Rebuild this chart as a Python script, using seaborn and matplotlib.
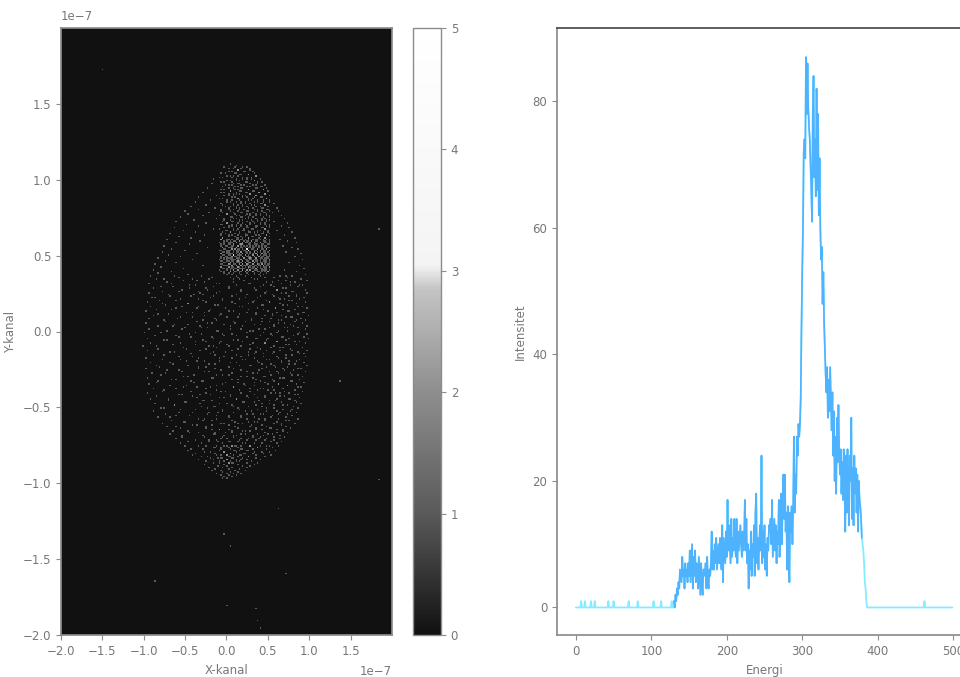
import numpy as np
import pandas as pd
import matplotlib
matplotlib.use("Agg")
import matplotlib.pyplot as plt
import seaborn as sns
from matplotlib.colors import LinearSegmentedColormap

sns.set_theme(style="ticks")
plt.rcParams['font.family'] = ['DejaVu Sans']

# spektrum
enkelt_topper = [7, 12, 20, 25, 43, 50, 70, 82, 103, 113, 127, 462]
start_kanal = 130
intensitet_del = [
    1, 0, 2, 1, 3, 2, 4, 3, 6, 5,
    4, 8, 5, 6, 3, 7, 5, 6, 4, 7,
    5, 9, 4, 7, 10, 3, 8, 5, 9, 4,
    7, 6, 3, 8, 5, 2, 7, 4, 2, 6,
    6, 5, 7, 3, 8, 4, 3, 6, 5, 7,
    12, 6, 9, 6, 10, 7, 11, 6, 8, 10,
    7, 11, 8, 6, 13, 4, 11, 9, 7, 12,
    8, 17, 9, 13, 10, 7, 14, 8, 11, 9,
    14, 10, 8, 14, 7, 12, 9, 11, 13, 10,
    8, 12, 9, 11, 17, 9, 14, 7, 10, 3,
    9, 6, 12, 5, 10, 8, 13, 5, 15, 18,
    7, 11, 6, 10, 13, 9, 24, 7, 12, 8,
    13, 6, 10, 5, 11, 9, 13, 12, 14, 10,
    17, 8, 11, 14, 9, 13, 7, 12, 10, 17,
    8, 14, 18, 10, 16, 21, 14, 21, 12, 15,
    6, 16, 9, 4, 15, 12, 16, 10, 16, 27,
    15, 21, 18, 27, 24, 29, 27, 29, 33, 44,
    53, 60, 72, 74, 71, 87, 78, 86, 79, 76,
    74, 70, 66, 61, 78, 84, 68, 74, 65, 82,
    66, 78, 62, 71, 60, 55, 57, 48, 53, 45,
    41, 37, 34, 38, 30, 36, 31, 38, 33, 28,
    34, 24, 31, 20, 27, 18, 30, 23, 32, 25,
    21, 25, 18, 23, 17, 25, 20, 12, 24, 15,
    25, 18, 13, 24, 20, 30, 14, 22, 13, 24,
    18, 22, 15, 21, 12, 20, 17, 16, 14, 11,
    10, 9, 7, 4, 3, 1,
]

# treff i detektoren, i nm. en liste per rad, fra y=110 og ned i steg paa 1 nm
rad_topp = 110
treff_rader = [
    [5], [12], [-2, 20], [8, 28], [14], [3, 22, 31], [-6, 10], [17, 26], [1, 13, 36], [-9, 7, 24],
    [-15, 19, 30], [4, 11, 33], [-3, 25, 38], [-18, 9, 16], [-1, 6, 21, 35], [13, 28, 42], [-22, 2, 18, 37],
    [-7, 10, 26, 44], [5, 15, 33], [-28, -2, 22, 39], [8, 12, 29, 46], [-12, 3, 19, 35], [-33, 10, 24, 41],
    [-5, 14, 31, 48], [-19, 6, 27, 38, 52], [-38, 1, 17, 34, 44], [9, 23, 40, 57], [-25, -4, 13, 30, 47],
    [-43, 5, 20, 36], [-14, 11, 26, 42, 60],
    # y=80
    [-34, 2, 16, 33, 50], [-50, -6, 24, 38, 63], [-21, 8, 19, 45, 55], [-46, 0, 29, 41], [-29, 12, 22, 35, 48, 67],
    [-55, 4, 17, 31, 52], [-11, 9, 26, 43, 70], [-39, -3, 20, 37, 49], [-60, 6, 15, 32, 58], [-24, 1, 28, 40, 73],
    [-48, -5, 11, 23, 46], [-33, 7, 18, 36, 51, 66], [-63, 3, 25, 42, 76], [-16, 13, 30, 47], [-52, -1, 9, 21, 38, 61],
    [-37, 5, 27, 34, 50, 79], [-68, -7, 16, 44], [-26, 2, 22, 39, 48, 70], [-57, 10, 31, 41], [-42, -4, 14, 26, 46, 82],
    # y=60
    [-71, -6, 3, 12, 19, 27, 35, 44, 51, 64], [-31, 0, 8, 15, 24, 30, 38, 47, 74], [-60, -3, 5, 11, 22, 33, 41, 49, 85],
    [-45, -7, 2, 9, 17, 17, 26, 36, 43, 52], [-75, -1, 7, 14, 21, 29, 39, 46, 68], [-22, -5, 4, 12, 19, 28, 34, 42, 50, 79],
    [-66, -2, 6, 10, 16, 25, 31, 37, 45, 48, 87], [-50, -6, 1, 8, 13, 22, 27, 27, 40, 44, 51], [-78, -3, 3, 11, 18, 24, 33, 38, 47, 72],
    [-36, -7, 0, 5, 15, 20, 29, 35, 43, 49, 90], [-70, -4, 2, 9, 9, 16, 23, 31, 37, 41, 46, 52], [-56, -1, 6, 12, 19, 26, 33, 39, 45, 50, 82],
    [-83, -6, 0, 7, 14, 21, 28, 28, 36, 42, 48], [-41, -3, 4, 10, 17, 24, 30, 35, 40, 47, 51, 92], [-74, -7, 1, 8, 13, 13, 20, 27, 32, 38, 44, 49],
    [-61, -2, 5, 11, 16, 22, 29, 34, 41, 46, 52, 76], [-86, -5, 3, 9, 15, 19, 25, 31, 37, 37, 43, 50], [-28, -1, 6, 12, 18, 23, 28, 33, 39, 45, 48, 88],
    [-79, -6, 2, 7, 14, 20, 26, 26, 32, 40, 47, 51], [-52, -3, 4, 10, 16, 21, 30, 36, 42, 49, 94], [-89, 0, 8, 13, 19, 24, 29, 35, 44, 46, 70],
    [-67, -7, 5, 11, 17, 22, 31, 38, 43, 50, 84], [-82, -2, 3, 9, 15, 25, 34, 41, 48], [-47, 1, 7, 18, 27, 33, 39, 45, 96],
    # y=38
    [-91, 12, 23, 64, 80], [-58, 5, 30, 47, 74], [-84, -20, 16, 38, 90], [-35, 71, 97], [-72, 8, 55, 83], [-93, -12, 26, 66],
    [-44, 44, 78, 92], [-64, 3, 58, 87], [-88, -25, 34, 72], [-53, 18, 60, 95], [-77, -8, 49, 81], [-94, -31, 67, 98],
    [-39, 11, 56, 85], [-68, -16, 40, 75], [-90, 22, 62, 93], [-55, -5, 70, 88], [-81, -28, 33, 79], [-96, 6, 52, 96],
    # y=20
    [-47, 27, 64, 84], [-73, -10, 45, 73], [-92, -34, 15, 91], [-60, 38, 59, 98], [-85, -19, 68, 82], [-97, 2, 50, 76],
    [-41, 24, 61, 94], [-70, -6, 36, 87], [-88, -26, 55, 99], [-56, 13, 72, 80], [-94, -14, 43, 90], [-76, 30, 66, 96],
    [-36, 8, 51, 83], [-98, -22, 63, 92], [-63, -2, 40, 77], [-82, 19, 58, 98], [-50, -30, 70, 86], [-93, 5, 47, 95],
    [-71, -12, 32, 74], [-99, 25, 60, 89],
    # y=0
    [-44, -4, 54, 97], [-86, 12, 41, 81], [-58, -18, 67, 93], [-96, 35, 50, 99], [-75, -28, 9, 72], [-38, 20, 61, 88],
    [-91, -8, 46, 95], [-64, 28, 75, 84], [-100, -16, 3, 57], [-52, 38, 69, 91], [-83, -24, 14, 78], [-95, 48, 64, 98],
    [-69, -1, 26, 86], [-42, 33, 55, 93], [-89, -13, 71, 80], [-57, 17, 44, 96], [-97, -33, 6, 62], [-78, 23, 52, 88],
    [-48, -9, 37, 76], [-92, 11, 66, 94],
    # y=-20
    [-65, -20, 42, 83], [-85, 29, 58, 97], [-34, 2, 49, 73], [-98, -14, 68, 90], [-72, 18, 39, 81], [-54, -27, 60, 95],
    [-90, 7, 31, 77], [-79, -5, 53, 86], [-46, 24, 44, 92], [-96, -17, 64, 70], [-61, 13, 36, 88], [-83, -30, 57, 79],
    [-39, -1, 47, 94], [-93, 21, 62, 84], [-68, -11, 34, 74], [-51, 9, 55, 90], [-88, -24, 41, 69], [-76, 16, 50, 82],
    [-43, -7, 28, 92], [-95, 59, 65, 75],
    # y=-40
    [-58, -19, 4, 86], [-84, 24, 46, 70], [-36, -3, 37, 89], [-91, 11, 61, 78], [-70, -26, 52, 83], [-48, 19, 33, 66],
    [-87, -9, 43, 90], [-63, 6, 57, 74], [-30, -15, 27, 81], [-80, 14, 49, 86], [-55, -4, 38, 68], [-89, 22, 60, 77],
    [-41, -21, 8, 84], [-74, 31, 45, 63], [-60, -11, 17, 80], [-83, 2, 54, 71], [-26, 25, 39, 87], [-67, -17, 47, 75],
    [-50, 10, 34, 60], [-78, -6, 20, 82],
    # y=-60
    [-35, 3, 42, 66], [-71, -24, 28, 72], [-56, 13, 51, 78], [-18, -8, 36, 61], [-64, 6, 23, 69], [-44, -1, 46, 74],
    [-68, -13, 18, 56], [-29, 9, 32, 64], [-53, -5, 40, 70], [-60, 1, 26, 49], [-21, 15, 35, 58], [-47, -10, 5, 66],
    [-56, 20, 43, 61], [-33, -3, 12, 52], [-50, 7, 29, 63], [-14, 2, 38, 55], [-42, -7, 17, 48], [-46, 10, 24, 59],
    [-26, -2, 33, 51], [-37, 5, 21, 44],
    # y=-80
    [-40, -12, 0, 15, 53], [-30, 4, 27, 46], [-19, -6, 9, 36], [-33, 1, 18, 41], [-24, -9, 12, 30], [-16, 3, 7, 24, 38],
    [-27, -3, 14, 33], [-10, 0, 20, 29], [-21, -5, 6, 25], [-13, 2, 16], [-17, -7, 10, 22], [-4, 5, 13], [-11, 1, 8, 18],
    [-6, 3, 11], [-2, 6],
    # y=-95
    [-4, 1],
]

# ekstra treff i det lyse rektangelet, fra y=108 og ned
rekt_topp = 108
rekt_rader = [
    [10, 24], [2, 18], [14, 29], [6, 21], [-1, 12, 33], [16, 27], [4, 9, 36], [-4, 19, 30], [11, 25, 40], [1, 15, 34],
    [-6, 7, 22, 43], [13, 28, 38], [3, 17, 31, 46], [-5, 10, 24, 41], [8, 20, 35, 48], [-2, 14, 27, 44], [5, 18, 32, 50],
    [-7, 11, 25, 39], [2, 16, 29, 47], [-3, 9, 22, 36, 51], [6, 19, 33, 42], [-8, 13, 26, 49], [0, 15, 30, 45],
    [4, 11, 23, 38, 52], [-6, 17, 28, 43], [8, 20, 34, 47], [-1, 12, 25, 40, 50], [3, 16, 31, 44], [-7, 9, 21, 37, 49],
    [5, 14, 27, 42, 52], [-4, 18, 32, 46], [1, 10, 24, 36, 48], [-8, 15, 29, 41, 51], [7, 19, 26, 45], [-2, 12, 22, 35, 47],
    [4, 16, 30, 43, 52], [-5, 9, 25, 38, 49], [0, 13, 20, 33, 46], [-7, 6, 18, 28, 41, 51], [3, 11, 24, 37, 48],
    [-3, 15, 27, 35, 44, 52], [-8, 8, 21, 31, 47], [1, 12, 19, 26, 40, 50], [-5, 5, 16, 29, 38, 45], [-1, 10, 23, 33, 43, 52],
    [-7, 7, 14, 25, 36, 48], [2, 18, 22, 30, 41, 51], [-4, 11, 20, 27, 39, 46],
    # y=60, den lyseste delen
    [-6, 1, 7, 14, 18, 23, 32, 37, 41, 49], [-2, 4, 10, 16, 21, 26, 30, 36, 44, 51], [-8, 2, 6, 12, 19, 24, 29, 34, 40, 47, 52],
    [-3, 5, 9, 15, 20, 20, 28, 33, 38, 45, 50], [-7, 0, 8, 13, 18, 25, 31, 35, 42, 48], [-5, 3, 7, 11, 17, 22, 27, 32, 39, 46, 52],
    [-1, 6, 10, 14, 19, 24, 24, 30, 37, 43, 49], [-8, 2, 5, 12, 16, 21, 26, 34, 36, 41, 47, 51], [-4, 1, 9, 13, 18, 23, 28, 33, 40, 44, 50],
    [-6, 3, 7, 11, 15, 20, 25, 31, 35, 42, 46, 52], [-2, 4, 8, 14, 17, 22, 27, 32, 38, 45, 49], [-7, 0, 6, 10, 16, 19, 24, 29, 34, 39, 43, 48, 51],
    [-3, 2, 5, 12, 15, 21, 26, 30, 36, 41, 47, 50], [-8, 1, 7, 9, 14, 18, 23, 28, 33, 37, 44, 49, 52], [-5, 3, 6, 11, 16, 20, 25, 31, 35, 40, 46, 51],
    [-1, 4, 8, 13, 17, 22, 27, 29, 34, 38, 43, 48], [-6, 2, 5, 10, 15, 19, 24, 26, 32, 39, 42, 47, 52], [-3, 0, 7, 12, 18, 21, 25, 30, 36, 41, 45, 50],
    [-7, 3, 9, 14, 16, 23, 28, 33, 37, 44, 49, 51], [-4, 1, 6, 11, 17, 20, 26, 31, 35, 40, 46], [-8, 4, 8, 13, 19, 24, 29, 34, 38, 43, 48, 52],
    [-2, 5, 10, 15, 22, 27, 32, 39, 47, 50],
]

# ekstra treff i resten av skyen, fra y=36 og ned
fyll_topp = 36
fyll_rader = [
    [-62, -30, 40, 71], [-18, 14, 58], [-75, -40, 9, 33], [-52, 21, 63], [-26, 48, 77], [-66, -8, 29], [-37, 12, 54, 88],
    [-80, -15, 41], [-45, 3, 68], [-22, 35, 60], [-58, -34, 18, 79], [-11, 46, 72], [-70, -29, 25], [-42, 7, 57, 84],
    [-86, -19, 38], [-33, 15, 65], [-61, -4, 49, 75], [-24, 31, 52], [-78, -46, 10], [-13, 42, 69], [-54, 20, 86],
    [-35, -1, 59], [-67, 27, 44], [-20, 8, 73], [-49, -27, 36, 91], [-82, 16, 56], [-9, 47, 66], [-40, 1, 78],
    [-59, 30, 53], [-28, -12, 62, 85], [-74, 22, 43], [-17, 10, 70], [-47, 34, 58], [-65, -32, 4, 81], [-23, 51, 74],
    [-53, 18, 39], [-10, 29, 63], [-79, -37, 45], [-30, 7, 87], [-60, -2, 55], [-43, 24, 68], [-15, 37, 76],
    [-72, 13, 49], [-25, -6, 60, 83], [-56, 32, 46], [-38, 0, 71], [-84, -21, 17], [-12, 53, 65], [-49, 28, 40],
    [-31, 6, 79], [-63, -16, 35, 57], [-19, 44, 89], [-76, 11, 26], [-41, -3, 61], [-8, 33, 72], [-55, 20, 48],
    [-27, -36, 67, 84], [-69, 4, 39], [-14, 54, 75], [-46, 15, 30], [-81, -24, 59], [-33, 9, 43, 86], [-58, -7, 70],
    [-20, 25, 52], [-73, 37, 62], [-39, -11, 2, 80], [-52, 18, 47], [-16, 31, 68], [-66, 6, 56], [-29, -43, 41, 77],
    [-85, 14, 34], [-4, 50, 63], [-48, 23, 74], [-35, -19, 9, 87], [-61, 28, 45], [-12, 38, 58], [-77, -1, 70],
    [-25, 17, 53], [-54, -32, 33, 82], [-41, 5, 64], [-8, 26, 46], [-70, 12, 76], [-18, -28, 39, 59], [-50, 21, 84],
    [-31, 0, 51], [-63, 35, 69], [-14, 8, 42], [-76, -23, 57], [-37, 15, 79], [-5, 30, 48], [-57, -10, 65],
    [-22, 24, 40, 74], [-44, 3, 55], [-68, 18, 33], [-12, -34, 46, 62], [-28, 7, 71], [-52, 27, 38], [-3, 14, 58, 66],
    [-40, -18, 30], [-60, 10, 49], [-25, 35, 54], [-9, 2, 43, 68], [-47, 19, 28], [-33, -14, 6, 60], [-16, 23, 37, 50],
    [-54, -2, 12, 44], [-27, 8, 31, 57], [-6, 17, 39, 64], [-38, -11, 25, 46], [-20, 3, 13, 53], [-30, -4, 22, 34],
    [-12, 6, 18, 41], [-24, 0, 10, 29, 48], [-15, -6, 14, 37], [-28, 4, 20, 32], [-9, 8, 16, 26], [-19, -2, 11, 43],
    [-13, 5, 22, 31], [-7, 1, 9, 18, 35], [-22, 3, 13, 27], [-10, -4, 7, 20], [-16, 0, 11, 24], [-3, 5, 15], [-8, 2, 9],
]

strei_x = [-150, 184, 138, 185, 63, -3, 5, 72, -87, 0, 35, 37, 40]
strei_y = [172, 67, -33, -98, -117, -133, -142, -160, -164, -180, -182, -190, -195]

# bygger 2d-histogrammet
treff_x, treff_y = list(strei_x), list(strei_y)
for topp, rader in [(rad_topp, treff_rader), (rekt_topp, rekt_rader), (fyll_topp, fyll_rader)]:
    for i, rad in enumerate(rader):
        for verdi in rad:
            treff_x.append(verdi)
            treff_y.append(topp - i)
treff_x = np.array(treff_x) * 1e-9
treff_y = np.array(treff_y) * 1e-9

nx, ny = 220, 400
x_kanter = np.linspace(-2e-7, 2e-7, nx + 1)
y_kanter = np.linspace(-2e-7, 2e-7, ny + 1)
hist, _, _ = np.histogram2d(treff_y, treff_x, bins=[y_kanter, x_kanter])
hist_df = pd.DataFrame(hist)

grey_cmap = LinearSegmentedColormap.from_list(
    "detektor",
    [(0.0, "#111111"), (0.2, "#5a5a5a"), (0.4, "#8e8e8e"), (0.57, "#c4c4c4"), (0.61, "#f4f4f4"), (1.0, "#ffffff")],
)

kanal = np.arange(500)
intensitet = np.zeros(500)
intensitet[enkelt_topper] = 1
intensitet[start_kanal:start_kanal + len(intensitet_del)] = intensitet_del

gra = "#777777"
linje = "#8c8c8c"
fig = plt.figure(figsize=(9.6, 6.77), dpi=100, facecolor="white")
ax1 = fig.add_axes([61 / 960, 42 / 677, 331 / 960, 607 / 677])
cax = fig.add_axes([413 / 960, 42 / 677, 28 / 960, 607 / 677])
ax2 = fig.add_axes([557 / 960, 42 / 677, 415 / 960, 607 / 677])

# venstre: detektorbilde
sns.heatmap(hist_df, ax=ax1, cbar_ax=cax, cmap=grey_cmap, vmin=0, vmax=5,
            xticklabels=False, yticklabels=False)
ax1.set_ylim(0, ny)
ax1.set_xlim(0, nx)
tick_verdier = [-2.0, -1.5, -1.0, -0.5, 0.0, 0.5, 1.0, 1.5]
tick_tekst = [f"{v:.1f}".replace("-", "\u2212") for v in tick_verdier]
ax1.set_xticks([(v + 2) / 4 * nx for v in tick_verdier])
ax1.set_xticklabels(tick_tekst, rotation=0)
ax1.set_yticks([(v + 2) / 4 * ny for v in tick_verdier])
ax1.set_yticklabels(tick_tekst, rotation=0)
ax1.set_xlabel("X-kanal", fontsize=8.5, color=gra)
ax1.set_ylabel("Y-kanal", fontsize=8.5, color=gra)
ax1.xaxis.set_label_coords(0.5, -0.048)
ax1.yaxis.set_label_coords(-0.133, 0.5)
for s in ax1.spines.values():
    s.set_visible(True)
    s.set_color(linje)
ax1.text(0, 1.008, "1e\u22127", transform=ax1.transAxes, fontsize=8.5, color=gra, va="bottom")
ax1.text(1, -0.06, "1e\u22127", transform=ax1.transAxes, fontsize=8.5, color=gra, ha="right", va="center")

# fargeskala
cbar = ax1.collections[0].colorbar
cbar.set_ticks([0, 1, 2, 3, 4, 5])
cbar.outline.set_edgecolor(linje)
cbar.outline.set_linewidth(1.0)
cax.tick_params(labelsize=8.5, colors=gra, length=3.5, width=0.8, color=linje)

# hoyre: spektrum
sns.lineplot(x=kanal, y=intensitet, ax=ax2, color="#85ecff", linewidth=1.3, errorbar=None, estimator=None)
sns.lineplot(x=kanal[start_kanal:380], y=intensitet[start_kanal:380], ax=ax2, color="#4fb2ff",
             linewidth=1.2, errorbar=None, estimator=None)
ax2.set_xlim(-25, 525)
ax2.set_ylim(-4.35, 91.6)
ax2.set_xticks([0, 100, 200, 300, 400, 500])
ax2.set_yticks([0, 20, 40, 60, 80])
ax2.set_xlabel("Energi", fontsize=8.5, color=gra)
ax2.set_ylabel("Intensitet", fontsize=8.5, color=gra)
ax2.xaxis.set_label_coords(0.5, -0.048)
ax2.yaxis.set_label_coords(-0.072, 0.5)
for s in ax2.spines.values():
    s.set_visible(True)
    s.set_color(linje)
ax2.spines["top"].set_color("#4a4a4a")

for ax in [ax1, ax2]:
    ax.tick_params(labelsize=8.5, colors=gra, length=3.5, width=0.8, color=linje)

fig.savefig("out.png", dpi=100)
